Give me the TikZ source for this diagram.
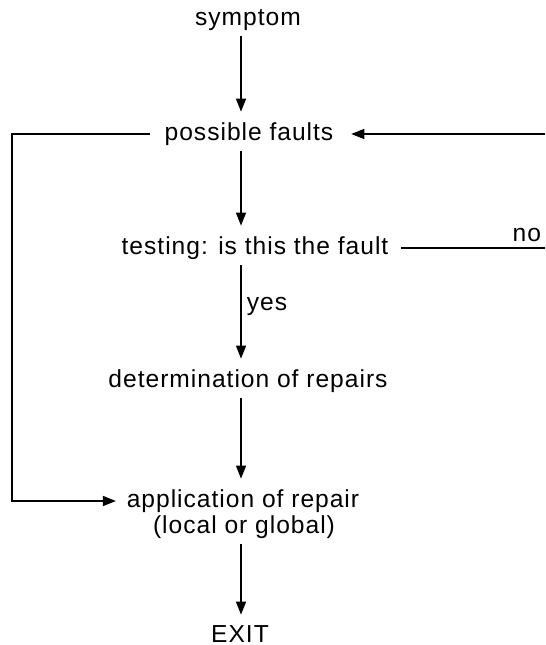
\documentclass[tikz,border=0pt]{standalone}
\usepackage{fontspec}
\setmainfont{Liberation Sans}[LetterSpace=4]
\usetikzlibrary{arrows.meta}

\begin{document}
\begin{tikzpicture}[x=0.02cm,y=-0.02cm,
		lbl/.style={font=\fontsize{14}{15}\selectfont,inner sep=3pt},
		arr/.style={line width=0.8pt,shorten >=3pt,-{Triangle[length=2.6mm,width=2mm]}}]
			\useasboundingbox (0,0) rectangle (545,645);
			\clip (0,0) rectangle (545,645);
			% steps
			\node[lbl] (symptom) at (248,20) {symptom};
			\node[lbl] (faults) at (249,134) {possible faults};
			\node[lbl] (test) at (255,248) {testing: is this the fault};
			\node[lbl] (repairs) at (248,381) {determination of repairs};
			\node[lbl] (apply) at (243,501) {application of repair};
			\node[lbl] (scope) at (244,527) {(local or global)};
			\node[lbl] (exit) at (240,634) {EXIT};
			\coordinate (axis) at (241,0);
			\coordinate (lft) at (12,0);
			\coordinate (rgt) at (560,0);
			% main line
			\draw[arr] (symptom.south -| axis) -- (faults.north -| axis);
			\draw[arr] (faults.south -| axis) -- (test.north -| axis);
			\draw[arr] (test.south -| axis) -- node[lbl,right,pos=0.42]{yes} (repairs.north -| axis);
			\draw[arr] (repairs.south -| axis) -- (apply.north -| axis);
			\draw[arr] (scope.south -| axis) -- (exit.north -| axis);
			% loops
			\draw[arr,shorten <=5pt] (faults.west) -- (faults.west -| lft) |- (apply.west);
			\draw[arr,shorten <=4pt,shorten >=7pt] (test.east) -- node[lbl,above,pos=0.8]{no} (test.east -| rgt) |- (faults.east);
		\end{tikzpicture}
\end{document}
